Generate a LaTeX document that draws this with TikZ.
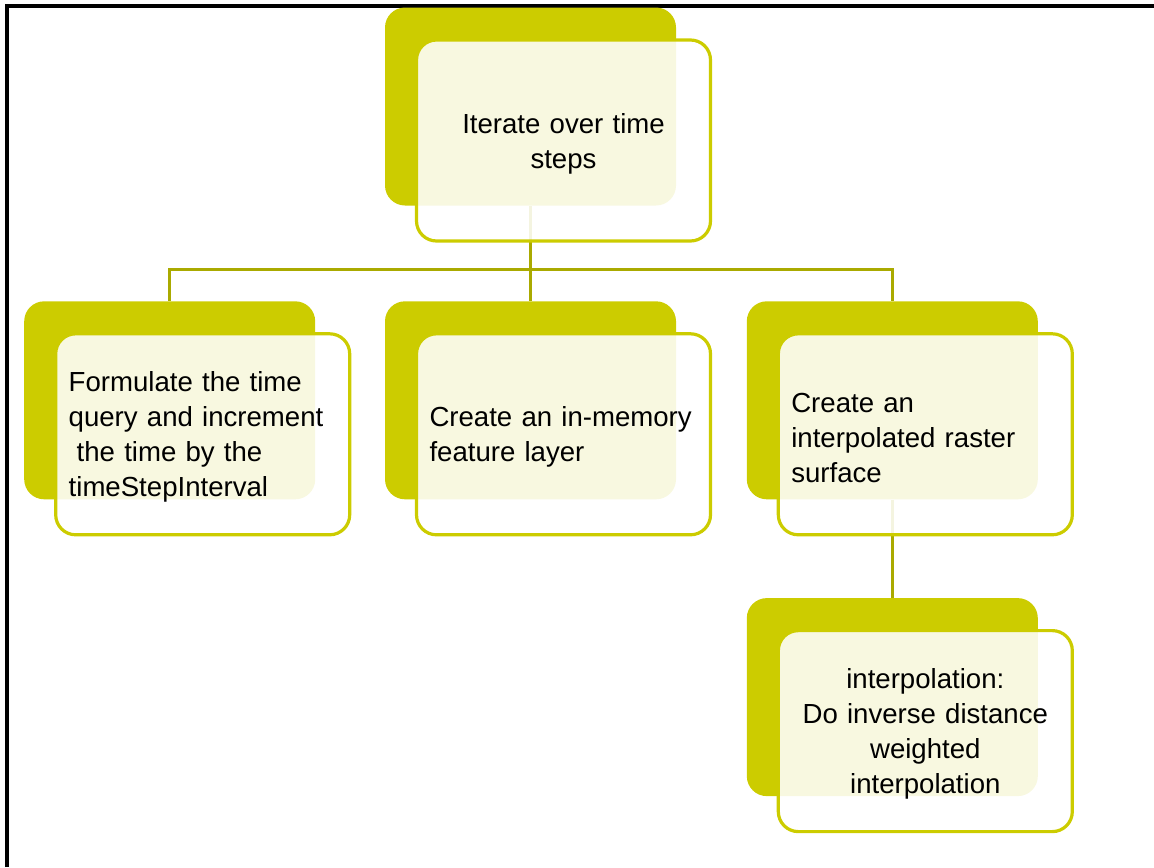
\documentclass[tikz,border=0pt]{standalone}
\usepackage{fontspec}
\setmainfont{Liberation Sans}
\usetikzlibrary{positioning}
\definecolor{leafgreen}{HTML}{CCCC00}
\definecolor{olivelink}{HTML}{AAAA00}
\tikzset{
  backcard/.style={fill=leafgreen, rounded corners=10pt, inner sep=0pt,
    minimum width=145.5pt, minimum height=99pt},
  frontcard/.style={draw=leafgreen, line width=1.6pt, fill=white, fill opacity=0.88,
    text opacity=1, rounded corners=10pt, inner sep=0pt,
    minimum width=147pt, minimum height=100.5pt, text width=134pt,
    font=\fontsize{13.8}{17.5}\selectfont,
    execute at begin node={\rule{0pt}{13pt}}},
  link/.style={draw=olivelink, line width=1.5pt},
}

\begin{document}
\begin{tikzpicture}[x=0.5pt, y=-0.5pt]
  \useasboundingbox (0,0) rectangle (1154,867);
  \draw[line width=2pt] (6.5,867) -- (6.5,6) -- (1154,6);
  % back cards
  \node[backcard] (iterB) at (530.5,106.5) {};
  \node[backcard, below=47.5pt of iterB] (memB) {};
  \node[backcard, left=34.5pt of memB] (formB) {};
  \node[backcard, right=35pt of memB] (surfB) {};
  \node[backcard, below=49pt of surfB] (idwB) {};
  % links
  \coordinate (hub) at ([yshift=-32pt]iterB.south);
  \draw[link] (iterB.south) -- (hub);
  \draw[link] (formB.north) |- (hub) -| (surfB.north);
  \draw[link] (memB.north) -- (hub);
  \draw[link] (surfB.south) -- (idwB.north);
  % front cards
  \node[frontcard, align=center, shift={(33,34)}] (iterF) at (iterB.center)
    {Iterate over time\\steps};
  \node[frontcard, align=left, shift={(33,34)}] (formF) at (formB.center)
    {Formulate the time\\query and increment\\\hspace*{4pt}the time by the\\timeStepInterval};
  \node[frontcard, align=left, shift={(33,34)}] (memF) at (memB.center)
    {Create an in-memory\\feature layer};
  \node[frontcard, align=left, shift={(33,34)}] (surfF) at (surfB.center)
    {Create an\\interpolated raster\\surface};
  \node[frontcard, align=center, shift={(33,34)}] (idwF) at (idwB.center)
    {interpolation:\\Do inverse distance\\weighted\\interpolation};
\end{tikzpicture}
\end{document}
